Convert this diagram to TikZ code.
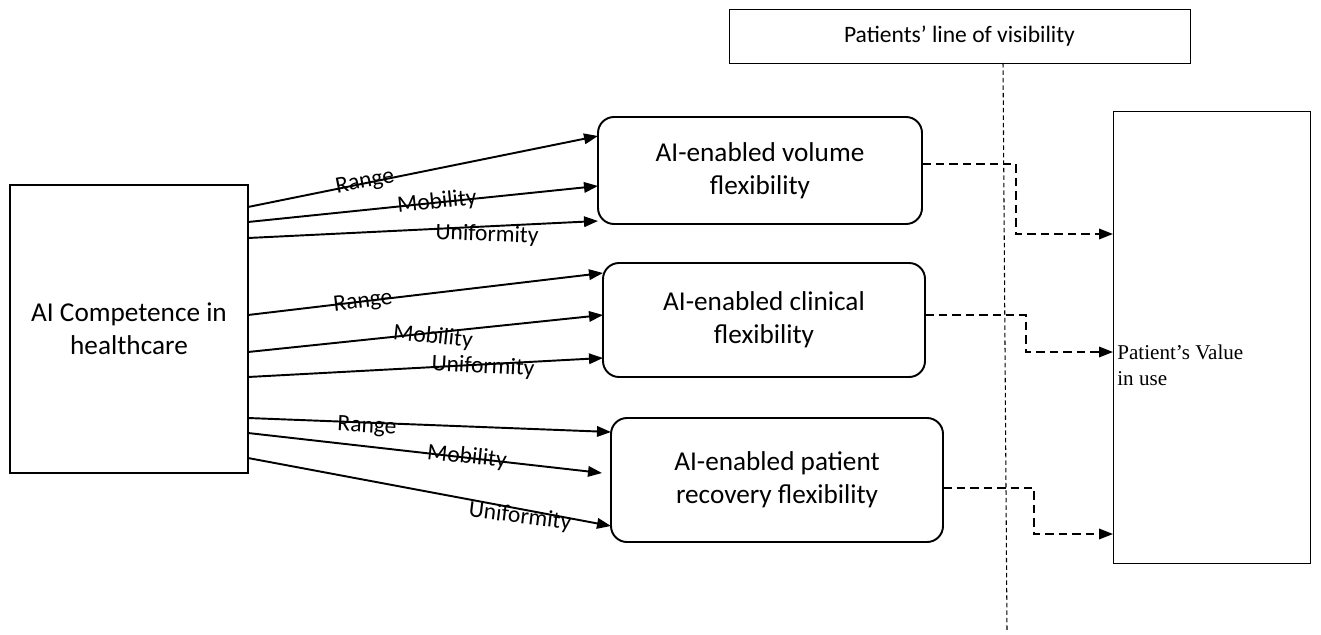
\documentclass[tikz,border=0pt]{standalone}
\usepackage{fontspec}
\setmainfont{Carlito}
\newfontfamily\seriffont{Liberation Serif}
\usetikzlibrary{arrows.meta, positioning}

\begin{document}
\begin{tikzpicture}[
    x=0.02cm, y=-0.02cm,
    font=\fontsize{13.4}{16.5}\selectfont,
    plainbox/.style={rectangle, draw, thick, inner sep=0pt, outer sep=0pt, align=center},
    flexbox/.style={rectangle, draw, line width=1.1pt, rounded corners=0.32cm, inner sep=0pt, outer sep=0pt, align=center, font=\fontsize{15.5}{19}\selectfont},
    arrow/.style={-{Triangle[length=0.28cm, width=0.21cm]}, line width=1.1pt},
    dasharrow/.style={-{Triangle[length=0.28cm, width=0.21cm]}, line width=1.1pt, dash pattern=on 0.17cm off 0.1cm},
    lbl/.style={inner sep=0pt}
]
\useasboundingbox (0,0) rectangle (1321,635);

% Competence box
\node[plainbox, font=\fontsize{15.5}{19}\selectfont, minimum width=238*0.02cm, minimum height=288*0.02cm] (comp) at (129,329) {AI Competence in\\healthcare};

% Flexibility column
\node[flexbox, minimum width=324*0.02cm, minimum height=107*0.02cm] (vol) at (760,170.5) {AI-enabled volume\\flexibility};
\node[flexbox, minimum width=322*0.02cm, minimum height=114*0.02cm] (clin) at (764,320) {AI-enabled clinical\\flexibility};
\node[flexbox, minimum width=332*0.02cm, minimum height=124*0.02cm] (recov) at (777,480) {AI-enabled patient\\recovery flexibility};

% Visibility and value
\node[plainbox, thin, minimum width=461*0.02cm, minimum height=54*0.02cm] (vis) at (959.5,36) {Patients’ line of visibility};
\node[plainbox, thin, minimum width=197*0.02cm, minimum height=452*0.02cm] (value) at (1211.5,337) {};
\node[anchor=west, align=left, inner sep=0pt, font=\seriffont\fontsize{12}{15}\selectfont] (valtxt) at (1117,365) {Patient’s Value\\in use};

% Line of visibility
\coordinate (visend) at (1007,632);
\draw[line width=0.6pt, dash pattern=on 0.09cm off 0.06cm] (vis.south -| 1003,0) -- (visend);

% Arrows to volume flexibility
\draw[arrow] (comp.east |- 0,207) -- (vol.west |- 0,136);
\draw[arrow] (comp.east |- 0,222) -- (vol.west |- 0,186);
\draw[arrow] (comp.east |- 0,238) -- (vol.west |- 0,221);

% Arrows to clinical flexibility
\draw[arrow] (comp.east |- 0,315) -- (clin.west |- 0,273);
\draw[arrow] (comp.east |- 0,352) -- (clin.west |- 0,315);
\draw[arrow] (comp.east |- 0,377) -- (clin.west |- 0,358);

% Arrows to recovery flexibility
\draw[arrow] (comp.east |- 0,418) -- (recov.west |- 0,432);
\draw[arrow] (comp.east |- 0,433) -- ([xshift=-0.18cm]recov.west |- 0,473);
\draw[arrow] (comp.east |- 0,458) -- (recov.west |- 0,526);

% Labels
\node[lbl, rotate=11] (r1) at (365,182) {Range};
\node[lbl, rotate=6] (m1) at (437,202) {Mobility};
\node[lbl, rotate=-2] (u1) at (487,235) {Uniformity};
\node[lbl, rotate=7] (r2) at (363,302) {Range};
\node[lbl, rotate=-6] (m2) at (433,337) {Mobility};
\node[lbl, rotate=-3] (u2) at (483,367) {Uniformity};
\node[lbl, rotate=-3] (r3) at (367,427) {Range};
\node[lbl, rotate=-6] (m3) at (467,457) {Mobility};
\node[lbl, rotate=-7] (u3) at (520,517) {Uniformity};

% Dashed links to value
\draw[dasharrow] (vol.east |- 0,164) -| (1016,234) -- (value.west |- 0,234);
\draw[dasharrow] (clin.east |- 0,315) -| (1026,352) -- (value.west |- 0,352);
\draw[dasharrow] (recov.east |- 0,488) -| (1034,534) -- (value.west |- 0,534);
\end{tikzpicture}
\end{document}
